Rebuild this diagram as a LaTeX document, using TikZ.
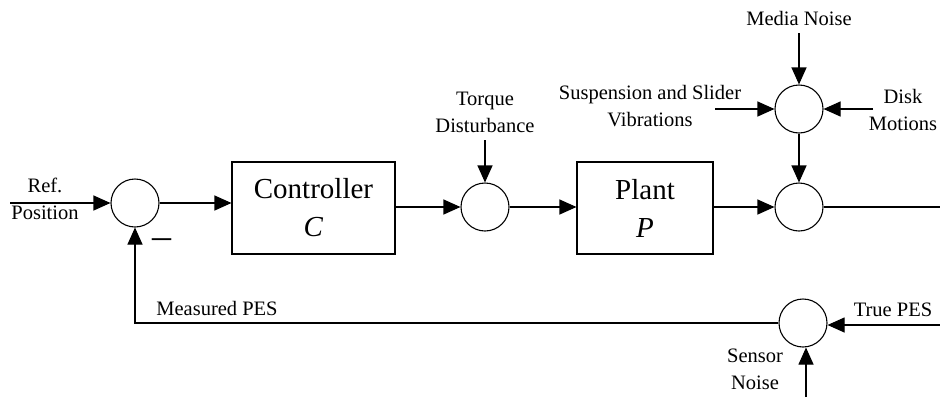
\documentclass[tikz,border=0pt]{standalone}
\usepackage{fontspec}
\setmainfont{Liberation Serif}
\usetikzlibrary{arrows.meta,positioning}

\begin{document}
\begin{tikzpicture}[
    x=1pt, y=-1pt,
    >={Triangle[length=17pt,width=15pt]},
    line width=1.1pt,
    every node/.style={font=\fontsize{20.5}{27}\selectfont},
    sumnode/.style={circle, draw, minimum size=48pt, inner sep=0pt},
    blocknode/.style={rectangle, draw, minimum width=#1, minimum height=92pt, align=center, inner sep=0pt, font=\fontsize{29}{38}\selectfont},
    lbl/.style={align=center, inner sep=0pt}
]
    \useasboundingbox (0,0) rectangle (940,397);

    % summing junctions and blocks
    \node (sum1) [sumnode] at (135,203) {};
    \node (ctrl) [blocknode=163pt] at (313.5,208) {Controller\\\textit{C}};
    \node (sum2) [sumnode] at (485,207) {};
    \node (plant) [blocknode=136pt] at (645,208) {Plant\\\textit{P}};
    \node (sum3) [sumnode] at (799,207) {};
    \node (sum4) [sumnode] at (799,109) {};
    \node (sum5) [sumnode] at (803,323) {};

    % free ends
    \coordinate (refin) at (10,203);
    \coordinate (torquein) at (485,140);
    \coordinate (mediain) at (799,33);
    \coordinate (suspin) at (715,109);
    \coordinate (diskin) at (873,109);
    \coordinate (out) at (940,207);
    \coordinate (truein) at (940,325);
    \coordinate (sensorin) at (806,397);

    % labels
    \node (reflbl) [lbl] at (45,199) {Ref.\\Position};
    \node (torquelbl) [lbl] at (485,112) {Torque\\Disturbance};
    \node (medialbl) [lbl] at (799,18) {Media Noise};
    \node (susplbl) [lbl] at (650,106) {Suspension and Slider\\Vibrations};
    \node (disklbl) [lbl] at (903,110) {Disk\\Motions};
    \node (truelbl) [lbl] at (893,310) {True PES};
    \node (sensorlbl) [lbl] at (755,369) {Sensor\\Noise};
    \node (measlbl) [lbl] at (217,308) {Measured PES};
    \node (minus) [lbl, font=\fontsize{38}{40}\selectfont] at (162,244) {\textendash};

    % connectors
    \draw[->] (refin) -- (sum1);
    \draw[->] (sum1.east) -- (sum1.east -| ctrl.west);
    \draw[->] (ctrl.east |- sum2) -- (sum2);
    \draw[->] (torquein) -- (sum2);
    \draw[->] (sum2) -- (sum2 -| plant.west);
    \draw[->] (plant.east |- sum3) -- (sum3);
    \draw[->] (mediain) -- (sum4);
    \draw[->] (suspin) -- (sum4);
    \draw[->] (diskin) -- (sum4);
    \draw[->] (sum4) -- (sum3);
    \draw (sum3) -- (out);
    \draw[->] (truein) -- (truein -| sum5.east);
    \draw[->] (sensorin) -- (sensorin |- sum5.south);
    \draw[->] (sum5.west) -| (sum1.south);

\end{tikzpicture}
\end{document}
